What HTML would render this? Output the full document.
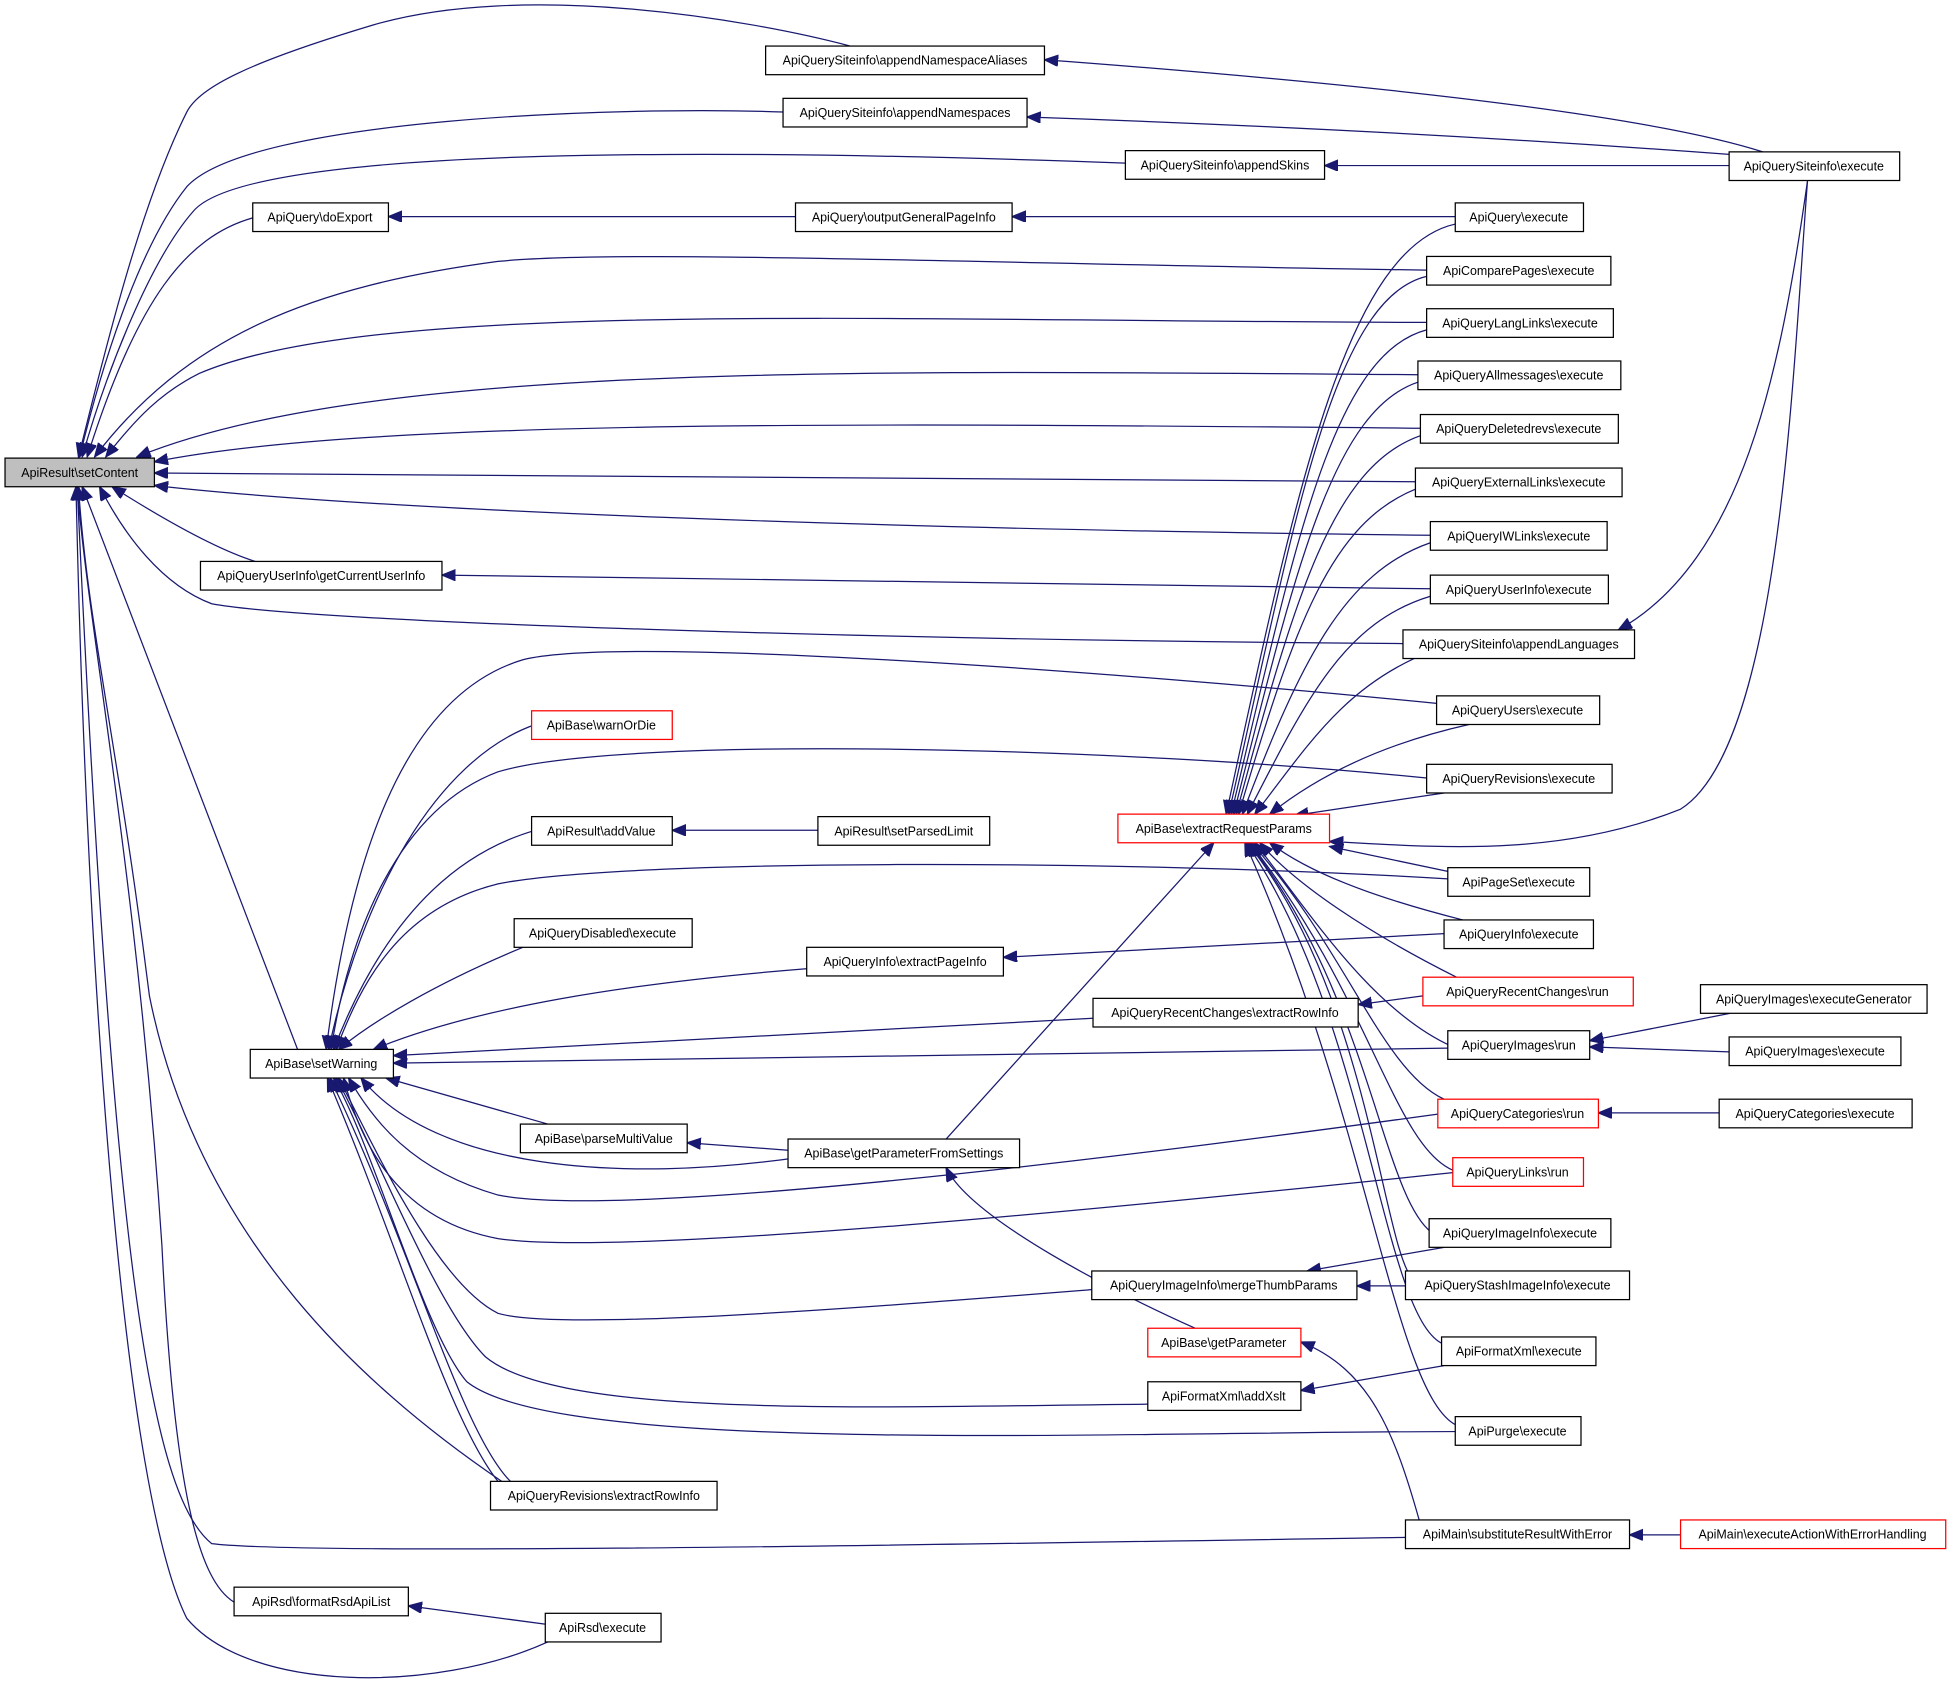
<!DOCTYPE html>
<html><head><meta charset="utf-8"><style>
html,body{margin:0;padding:0;background:#fff;}
svg{display:block;}
text{font-family:"Liberation Sans",sans-serif;font-size:10px;fill:#000;}
.e{fill:none;stroke:#191970;stroke-width:1;}
.n{fill:#fff;stroke:#000;stroke-width:1;}
.r{fill:#fff;stroke:#ff0000;stroke-width:1;}
</style></head><body>
<svg width="1952" height="1688" viewBox="0 0 1568 1356" xmlns="http://www.w3.org/2000/svg">
<defs><marker id="a" markerUnits="userSpaceOnUse" markerWidth="12" markerHeight="10" refX="11" refY="4.5" orient="auto"><path d="M0,0 L11,4.5 L0,9 z" fill="#191970" stroke="#191970"/></marker></defs>
<g class="e" marker-end="url(#a)">
<!-- setContent callers -->
<path d="M683,37 C600,15 420,-15 300,20 C200,50 160,70 150,90 C110,170 80,300 63,367"/>
<path d="M629,90 C500,85 200,95 150,150 C110,200 80,300 64,367"/>
<path d="M904,131 C600,120 200,115 155,170 C120,210 85,300 66,367"/>
<path d="M203,175 C150,190 110,240 70,367"/>
<path d="M1146,217 C800,212 500,200 400,210 C250,230 150,270 76,367"/>
<path d="M1146,259 C700,258 300,240 160,300 C130,315 110,335 85,367"/>
<path d="M1139,301 C700,298 300,290 110,367"/>
<path d="M1141,344 C700,340 300,336 124,371"/>
<path d="M1137,387 L124,380"/>
<path d="M1149,430 C700,425 300,410 124,390"/>
<path d="M205,451 C170,440 120,410 90,391"/>
<path d="M1127,517 C700,514 250,500 170,485 C130,470 100,430 80,391"/>
<path d="M239,843 L66,391"/>
<path d="M403,1190 C300,1120 160,1000 120,800 C95,600 70,500 63,391"/>
<path d="M1129,1235 C800,1240 250,1250 170,1240 C120,1200 90,1000 62,391"/>
<path d="M188,1287 C160,1270 140,1200 130,1000 C110,700 70,500 62,391"/>
<path d="M440,1319 C350,1360 200,1360 150,1300 C100,1200 70,800 61,391"/>
<!-- siteinfo -->
<path d="M1416,122 C1300,85 1000,60 839,48"/>
<path d="M1389,124 C1200,110 1000,100 825,94"/>
<path d="M1389,133 L1064,133"/>
<path d="M1452,145 C1430,300 1400,450 1300,506"/>
<path d="M1452,145 C1440,300 1430,600 1350,650 C1250,690 1150,680 1068,676"/>
<path d="M1169,174 L813,174"/>
<path d="M639,174 L312,174"/>
<path d="M1149,473 C800,468 500,463 355,462"/>
<!-- extractRequestParams callers -->
<path d="M1169,180 C1080,200 1040,400 985,654"/>
<path d="M1146,222 C1070,240 1040,420 987,654"/>
<path d="M1146,265 C1070,285 1040,440 989,654"/>
<path d="M1139,307 C1070,330 1040,460 991,654"/>
<path d="M1141,350 C1070,375 1040,480 993,654"/>
<path d="M1137,393 C1070,420 1040,500 995,654"/>
<path d="M1149,436 C1080,460 1045,530 998,654"/>
<path d="M1149,479 C1080,500 1050,560 1002,654"/>
<path d="M1150,523 C1080,550 1050,600 1008,654"/>
<path d="M1180,582 C1100,600 1050,630 1020,654"/>
<path d="M1160,637 L1040,655"/>
<path d="M1163,700 L1068,680"/>
<path d="M1175,739 C1100,720 1050,700 1020,677"/>
<path d="M1170,785 C1100,750 1040,710 1012,677"/>
<path d="M1165,840 C1100,810 1050,730 1008,677"/>
<path d="M1160,883 C1110,860 1080,760 1005,677"/>
<path d="M1167,940 C1120,920 1100,800 1004,677"/>
<path d="M1150,990 C1110,960 1100,800 1003,677"/>
<path d="M1135,1028 C1110,1000 1100,800 1002,677"/>
<path d="M1160,1080 C1110,1060 1100,820 1001,677"/>
<path d="M1170,1145 C1120,1120 1100,900 1000,677"/>
<path d="M760,915 L975,677"/>
<!-- misc -->
<path d="M657,667 L540,667"/>
<path d="M1160,750 L806,769"/>
<path d="M1143,800 L1091,807"/>
<path d="M1390,814 L1277,836"/>
<path d="M1389,845 L1277,841"/>
<path d="M1381,894 L1284,894"/>
<path d="M1160,1002 L1050,1021"/>
<path d="M1129,1033 L1090,1033"/>
<path d="M633,924 L552,918"/>
<path d="M960,1067 C900,1040 780,980 760,938"/>
<path d="M1140,1221 C1120,1150 1100,1100 1045,1078"/>
<path d="M1160,1097 L1045,1117"/>
<path d="M1350,1233 L1309,1233"/>
<path d="M440,1305 L328,1290"/>
<!-- setWarning callers -->
<path d="M1154,565 C900,540 500,510 420,530 C320,560 280,700 262,843"/>
<path d="M430,582 C350,610 290,720 264,843"/>
<path d="M1146,625 C900,600 500,590 400,620 C320,650 280,750 266,843"/>
<path d="M430,667 C350,690 300,760 268,843"/>
<path d="M1163,706 C900,690 500,690 400,710 C320,730 290,790 270,843"/>
<path d="M420,761 C350,790 300,820 272,843"/>
<path d="M650,778 C500,790 380,810 300,843"/>
<path d="M878,818 L316,848"/>
<path d="M1163,842 L316,854"/>
<path d="M440,903 L310,866"/>
<path d="M640,930 C500,950 350,940 290,866"/>
<path d="M1155,895 C900,930 500,980 400,960 C330,940 300,900 280,866"/>
<path d="M1167,942 C900,970 500,1010 400,995 C320,980 290,920 276,866"/>
<path d="M877,1036 C700,1050 450,1070 400,1055 C350,1030 300,920 272,866"/>
<path d="M922,1128 C700,1130 450,1140 390,1090 C350,1050 300,920 270,866"/>
<path d="M1169,1150 C900,1150 450,1170 375,1110 C340,1070 300,920 268,866"/>
<path d="M410,1190 C370,1150 330,1000 265,866"/>
<path d="M400,1190 C360,1140 320,1000 263,866"/>
</g>
<g>
<rect x="4" y="368" width="120" height="23" fill="#bfbfbf" stroke="#000"/><text x="64" y="383" text-anchor="middle">ApiResult\setContent</text>
<rect class="n" x="203" y="163" width="109" height="23"/><text x="257" y="178" text-anchor="middle">ApiQuery\doExport</text>
<rect class="n" x="161" y="451" width="194" height="23"/><text x="258" y="466" text-anchor="middle">ApiQueryUserInfo\getCurrentUserInfo</text>
<rect class="n" x="201" y="843" width="115" height="23"/><text x="258" y="858" text-anchor="middle">ApiBase\setWarning</text>
<rect class="n" x="188" y="1275" width="140" height="23"/><text x="258" y="1290" text-anchor="middle">ApiRsd\formatRsdApiList</text>
<rect class="n" x="438" y="1296" width="93" height="23"/><text x="484" y="1311" text-anchor="middle">ApiRsd\execute</text>
<rect class="n" x="615" y="37" width="224" height="23"/><text x="727" y="52" text-anchor="middle">ApiQuerySiteinfo\appendNamespaceAliases</text>
<rect class="n" x="629" y="79" width="196" height="23"/><text x="727" y="94" text-anchor="middle">ApiQuerySiteinfo\appendNamespaces</text>
<rect class="n" x="904" y="121" width="160" height="23"/><text x="984" y="136" text-anchor="middle">ApiQuerySiteinfo\appendSkins</text>
<rect class="n" x="639" y="163" width="174" height="23"/><text x="726" y="178" text-anchor="middle">ApiQuery\outputGeneralPageInfo</text>
<rect class="r" x="427" y="571" width="113" height="23"/><text x="483" y="586" text-anchor="middle">ApiBase\warnOrDie</text>
<rect class="n" x="427" y="656" width="113" height="23"/><text x="483" y="671" text-anchor="middle">ApiResult\addValue</text>
<rect class="n" x="657" y="656" width="138" height="23"/><text x="726" y="671" text-anchor="middle">ApiResult\setParsedLimit</text>
<rect class="n" x="413" y="738" width="143" height="23"/><text x="484" y="753" text-anchor="middle">ApiQueryDisabled\execute</text>
<rect class="n" x="648" y="761" width="158" height="23"/><text x="727" y="776" text-anchor="middle">ApiQueryInfo\extractPageInfo</text>
<rect class="n" x="878" y="802" width="213" height="23"/><text x="984" y="817" text-anchor="middle">ApiQueryRecentChanges\extractRowInfo</text>
<rect class="n" x="418" y="903" width="134" height="23"/><text x="485" y="918" text-anchor="middle">ApiBase\parseMultiValue</text>
<rect class="n" x="633" y="915" width="186" height="23"/><text x="726" y="930" text-anchor="middle">ApiBase\getParameterFromSettings</text>
<rect class="n" x="877" y="1021" width="213" height="23"/><text x="983" y="1036" text-anchor="middle">ApiQueryImageInfo\mergeThumbParams</text>
<rect class="r" x="922" y="1067" width="123" height="23"/><text x="983" y="1082" text-anchor="middle">ApiBase\getParameter</text>
<rect class="n" x="922" y="1110" width="123" height="23"/><text x="983" y="1125" text-anchor="middle">ApiFormatXml\addXslt</text>
<rect class="n" x="394" y="1190" width="182" height="23"/><text x="485" y="1205" text-anchor="middle">ApiQueryRevisions\extractRowInfo</text>
<rect class="r" x="898" y="654" width="170" height="23"/><text x="983" y="669" text-anchor="middle">ApiBase\extractRequestParams</text>
<rect class="n" x="1129" y="1221" width="180" height="23"/><text x="1219" y="1236" text-anchor="middle">ApiMain\substituteResultWithError</text>
<rect class="n" x="1389" y="122" width="137" height="23"/><text x="1457" y="137" text-anchor="middle">ApiQuerySiteinfo\execute</text>
<rect class="n" x="1169" y="163" width="103" height="23"/><text x="1220" y="178" text-anchor="middle">ApiQuery\execute</text>
<rect class="n" x="1146" y="206" width="148" height="23"/><text x="1220" y="221" text-anchor="middle">ApiComparePages\execute</text>
<rect class="n" x="1146" y="248" width="150" height="23"/><text x="1221" y="263" text-anchor="middle">ApiQueryLangLinks\execute</text>
<rect class="n" x="1139" y="290" width="163" height="23"/><text x="1220" y="305" text-anchor="middle">ApiQueryAllmessages\execute</text>
<rect class="n" x="1141" y="333" width="159" height="23"/><text x="1220" y="348" text-anchor="middle">ApiQueryDeletedrevs\execute</text>
<rect class="n" x="1137" y="376" width="166" height="23"/><text x="1220" y="391" text-anchor="middle">ApiQueryExternalLinks\execute</text>
<rect class="n" x="1149" y="419" width="142" height="23"/><text x="1220" y="434" text-anchor="middle">ApiQueryIWLinks\execute</text>
<rect class="n" x="1149" y="462" width="143" height="23"/><text x="1220" y="477" text-anchor="middle">ApiQueryUserInfo\execute</text>
<rect class="n" x="1127" y="506" width="186" height="23"/><text x="1220" y="521" text-anchor="middle">ApiQuerySiteinfo\appendLanguages</text>
<rect class="n" x="1154" y="559" width="131" height="23"/><text x="1219" y="574" text-anchor="middle">ApiQueryUsers\execute</text>
<rect class="n" x="1146" y="614" width="149" height="23"/><text x="1220" y="629" text-anchor="middle">ApiQueryRevisions\execute</text>
<rect class="n" x="1163" y="697" width="114" height="23"/><text x="1220" y="712" text-anchor="middle">ApiPageSet\execute</text>
<rect class="n" x="1160" y="739" width="120" height="23"/><text x="1220" y="754" text-anchor="middle">ApiQueryInfo\execute</text>
<rect class="r" x="1143" y="785" width="169" height="23"/><text x="1227" y="800" text-anchor="middle">ApiQueryRecentChanges\run</text>
<rect class="n" x="1163" y="828" width="114" height="23"/><text x="1220" y="843" text-anchor="middle">ApiQueryImages\run</text>
<rect class="r" x="1155" y="883" width="129" height="23"/><text x="1219" y="898" text-anchor="middle">ApiQueryCategories\run</text>
<rect class="r" x="1167" y="930" width="105" height="23"/><text x="1219" y="945" text-anchor="middle">ApiQueryLinks\run</text>
<rect class="n" x="1148" y="979" width="146" height="23"/><text x="1221" y="994" text-anchor="middle">ApiQueryImageInfo\execute</text>
<rect class="n" x="1129" y="1021" width="180" height="23"/><text x="1219" y="1036" text-anchor="middle">ApiQueryStashImageInfo\execute</text>
<rect class="n" x="1158" y="1074" width="124" height="23"/><text x="1220" y="1089" text-anchor="middle">ApiFormatXml\execute</text>
<rect class="n" x="1169" y="1138" width="101" height="23"/><text x="1219" y="1153" text-anchor="middle">ApiPurge\execute</text>
<rect class="n" x="1366" y="791" width="182" height="23"/><text x="1457" y="806" text-anchor="middle">ApiQueryImages\executeGenerator</text>
<rect class="n" x="1389" y="833" width="138" height="23"/><text x="1458" y="848" text-anchor="middle">ApiQueryImages\execute</text>
<rect class="n" x="1381" y="883" width="155" height="23"/><text x="1458" y="898" text-anchor="middle">ApiQueryCategories\execute</text>
<rect class="r" x="1350" y="1221" width="213" height="23"/><text x="1456" y="1236" text-anchor="middle">ApiMain\executeActionWithErrorHandling</text>
</g>
</svg>
</body></html>
